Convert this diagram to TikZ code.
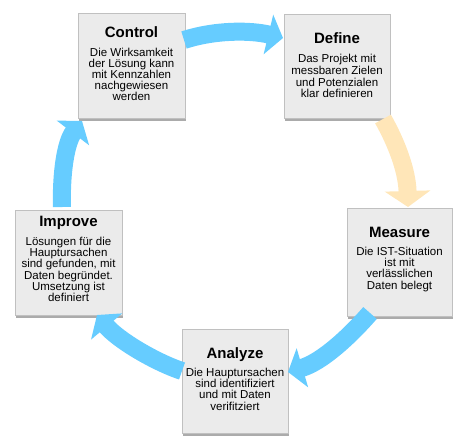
\documentclass[tikz,border=0pt]{standalone}
\usepackage{fontspec}
\setmainfont{Liberation Sans}
\usetikzlibrary{arrows.meta,shadows}
\definecolor{flowblue}{HTML}{66CCFF}
\definecolor{flowpeach}{HTML}{FFE6B8}
\definecolor{boxfill}{HTML}{EBEBEB}
\definecolor{boxline}{HTML}{C0C0C0}
\tikzset{
  phasebox/.style={rectangle, draw=boxline, line width=0.6pt, fill=boxfill,
    inner sep=0pt, outer sep=0pt,
    drop shadow={shadow xshift=0.8pt, shadow yshift=-2.5pt, fill=black!55, opacity=0.6}},
  phasetitle/.style={anchor=base, inner sep=0pt, font=\bfseries\fontsize{15}{18}\selectfont},
  phasebody/.style={anchor=north, inner sep=0pt, align=center},
  cyclearrow/.style={line width=18pt, -{Triangle[width=40pt,length=15pt]}},
}
\newcommand{\bodyfont}[1]{\fontsize{11.5}{#1}\selectfont}
\begin{document}
\begin{tikzpicture}[x=1pt,y=-1pt]
\useasboundingbox (0,0) rectangle (454,440);

% boxes
\node[phasebox, minimum width=107pt, minimum height=105pt] (control) at (131.5,65.5) {};
\node[phasebox, minimum width=106pt, minimum height=104pt] (define) at (337,66) {};
\node[phasebox, minimum width=105pt, minimum height=108pt] (measure) at (399.5,262) {};
\node[phasebox, minimum width=107pt, minimum height=105pt] (improve) at (68.5,262.5) {};
\node[phasebox, minimum width=106pt, minimum height=104pt] (analyze) at (235,381) {};

% titles
\node[phasetitle] (controlT) at (131.5,37) {Control};
\node[phasetitle] (defineT) at (337,43) {Define};
\node[phasetitle] (measureT) at (399.5,237) {Measure};
\node[phasetitle] (improveT) at (68.5,226) {Improve};
\node[phasetitle] (analyzeT) at (235,358) {Analyze};

% bodies
\node[phasebody, font=\bodyfont{11}] (controlB) at (131.5,46)
  {\rule{0pt}{10pt}Die Wirksamkeit\\der Lösung kann\\mit Kennzahlen\\nachgewiesen\\werden};
\node[phasebody, font=\bodyfont{11.9}] (defineB) at (337,52)
  {\rule{0pt}{10pt}Das Projekt mit\\messbaren Zielen\\und Potenzialen\\klar definieren};
\node[phasebody, font=\bodyfont{11.3}] (measureB) at (399.5,245)
  {\rule{0pt}{10pt}Die IST-Situation\\ist mit\\verlässlichen\\Daten belegt};
\node[phasebody, font=\bodyfont{11.3}] (improveB) at (68.5,235)
  {\rule{0pt}{10pt}Lösungen für die\\Hauptursachen\\sind gefunden, mit\\Daten begründet.\\Umsetzung ist\\definiert};
\node[phasebody, font=\bodyfont{11.3}] (analyzeB) at (235,366)
  {\rule{0pt}{10pt}Die Hauptursachen\\sind identifiziert\\und mit Daten\\verifitziert};

% arrow end points
\coordinate (c2dS) at (184,40);
\coordinate (c2dE) at (283,38);
\coordinate (d2mS) at (383,119);
\coordinate (d2mE) at (408,207);
\coordinate (m2aS) at (370,313);
\coordinate (m2aE) at (288,372);
\coordinate (a2iS) at (182,371);
\coordinate (a2iE) at (97,315);
\coordinate (i2cS) at (62,207);
\coordinate (i2cE) at (82,121);

% arrows
\draw[cyclearrow, draw=flowblue, fill=flowblue] (c2dS) .. controls (215,30) and (250,30) .. (c2dE);
\draw[cyclearrow, draw=flowpeach, fill=flowpeach, -{Triangle[width=45pt,length=16pt]}] (d2mS) .. controls (396,142) and (407,170) .. (d2mE);
\draw[cyclearrow, draw=flowblue, fill=flowblue] (m2aS) .. controls (350,336) and (322,362) .. (m2aE);
\draw[cyclearrow, draw=flowblue, fill=flowblue] (a2iS) .. controls (155,362) and (118,340) .. (a2iE);
\draw[cyclearrow, draw=flowblue, fill=flowblue] (i2cS) .. controls (61,172) and (66,142) .. (i2cE);
\end{tikzpicture}
\end{document}
